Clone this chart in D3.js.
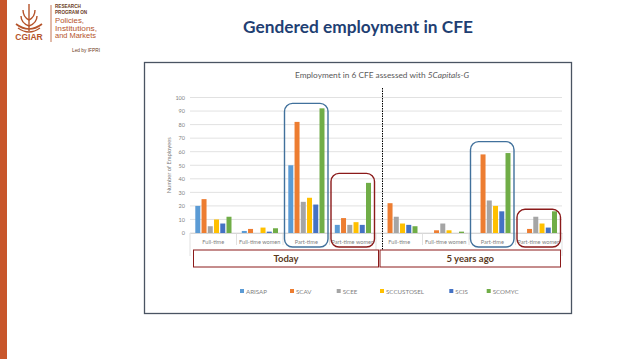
<!DOCTYPE html>
<html><head><meta charset="utf-8">
<script src="https://cdn.jsdelivr.net/npm/d3@7/dist/d3.min.js"></script>
<style>
html,body{margin:0;padding:0;background:#fff;}
svg{display:block;font-family:Lato,"Liberation Sans",sans-serif;}
</style></head>
<body>
<svg id="c" width="638" height="359"></svg>
<script>
// ---- data ----
const categories = ["Full-time","Full-time women","Part-time","Part-time women","Full-time","Full-time women","Part-time","Part-time women"];
const periods = ["Today","5 years ago"];
const seriesNames = ["ARISAP","SCAV","SCEE","SCCUSTOSEL","SCIS","SCOMYC"];
const ARISAP     = [20, 1.5, 50, 6,   0, 0,  0,  0];
const SCAV       = [25, 3,   82, 11,  22, 2, 58, 3];
const SCEE       = [5,  0,   23, 6,   12, 7, 24, 12];
const SCCUSTOSEL = [10, 4,   26, 8,   7,  2, 20, 7];
const SCIS       = [7,  1,   21, 6,   6,  0, 16, 4];
const SCOMYC     = [12, 3.5, 92, 37,  5,  1, 59, 16];
const yTicks = [0,10,20,30,40,50,60,70,80,90,100];
const seriesColors = ["#5B9BD5","#ED7D31","#A5A5A5","#FFC000","#4472C4","#70AD47"];
// highlighted categories (index) and the value level of the box top
const highlightIdx = [2,3,6,7];
const highlightTop = [95.7,44,67.4,17.5];
const highlightColor = ["#41719C","#8B1A1A","#41719C","#8B1A1A"];

const values = [ARISAP,SCAV,SCEE,SCCUSTOSEL,SCIS,SCOMYC];

const svg = d3.select("#c");

// left strip
svg.append("rect").attr("x",0).attr("y",0).attr("width",7).attr("height",359).attr("fill","#C8562B");

// logo
const logo = svg.append("g").attr("fill","#B5532A");
const em = svg.append("g").attr("stroke","#B5532A").attr("fill","none").attr("stroke-width",1.4);
em.append("line").attr("x1",29).attr("y1",4).attr("x2",29).attr("y2",31);
[[23,14],[35,14],[21,20],[37,20]].forEach(p=>{
  em.append("path").attr("d",`M29,${p[1]+6} Q${p[0]},${p[1]+3} ${p[0]},${p[1]-4}`);
});
em.append("path").attr("d","M16,24 Q29,34 42,24").attr("stroke-width",1.6);
em.append("path").attr("d","M18,28 Q29,36 40,28").attr("stroke-width",1.4);
logo.append("text").attr("x",29).attr("y",40).attr("text-anchor","middle").attr("font-size",8.5).attr("font-weight","bold").attr("font-family","Liberation Sans").text("CGIAR");
svg.append("line").attr("x1",51).attr("x2",51).attr("y1",5).attr("y2",42).attr("stroke","#B5532A").attr("stroke-width",0.8);
svg.append("text").attr("x",55).attr("y",8).attr("font-size",4.6).attr("font-weight","bold").attr("fill","#6B3A22").attr("font-family","Liberation Sans").text("RESEARCH");
svg.append("text").attr("x",55).attr("y",13.5).attr("font-size",4.6).attr("font-weight","bold").attr("fill","#6B3A22").attr("font-family","Liberation Sans").text("PROGRAM ON");
["Policies,","Institutions,","and Markets"].forEach((t,i)=>{
  svg.append("text").attr("x",55).attr("y",23+i*7.6).attr("font-size",6.6).attr("fill","#B5532A")
    .attr("font-family","Liberation Sans").attr("textLength",[29,42,41][i]).attr("lengthAdjust","spacingAndGlyphs").text(t);
});
svg.append("text").attr("x",72).attr("y",51.5).attr("font-size",4.8).attr("fill","#6B3A22").attr("font-family","Liberation Sans").text("Led by IFPRI");

// page title
svg.append("text").attr("x",358).attr("y",33).attr("text-anchor","middle")
  .attr("font-size",17).attr("font-weight","bold").attr("fill","#1F3F73")
  .attr("font-family","Lato").attr("textLength",230).attr("lengthAdjust","spacingAndGlyphs")
  .text("Gendered employment in CFE");

// chart frame
svg.append("rect").attr("x",144.5).attr("y",62.5).attr("width",427).attr("height",251)
  .attr("fill","#fff").attr("stroke","#4A5462").attr("stroke-width",1.3);

// chart title
const ct = svg.append("text").attr("x",382).attr("y",78).attr("text-anchor","middle")
  .attr("font-size",8.3).attr("fill","#595959");
ct.append("tspan").text("Employment in 6 CFE assessed with ");
ct.append("tspan").attr("font-style","italic").text("5Capitals-G");

// scales
const x0 = d3.scaleBand().domain(d3.range(categories.length)).range([190,562]).padding(0);
const x1 = d3.scaleBand().domain(d3.range(seriesNames.length)).range([5.3,41.5]).paddingInner(0.2);
const y = d3.scaleLinear().domain([0,100]).range([233,97.5]);

// gridlines
svg.append("g").selectAll("line").data(yTicks).join("line")
  .attr("x1",190).attr("x2",562).attr("y1",d=>y(d)).attr("y2",d=>y(d))
  .attr("stroke","#D9D9D9").attr("stroke-width",0.8);

// y axis labels
const yAxis = d3.axisLeft(y).tickValues(yTicks).tickSize(0).tickPadding(5);
const ya = svg.append("g").attr("transform","translate(190,0)").call(yAxis);
ya.select(".domain").remove();
ya.selectAll("text").attr("font-size",5.5).attr("fill","#7F7F7F").attr("font-family","Lato");

svg.append("text").attr("transform",`translate(171,${y(50)}) rotate(-90)`).attr("text-anchor","middle")
  .attr("font-size",5.8).attr("fill","#7F7F7F").text("Number of Employees");

// category axis
const xAxis = d3.axisBottom(x0).tickSize(0).tickPadding(7).tickFormat(i=>categories[i]);
const xa = svg.append("g").attr("transform",`translate(0,${y(0)})`).call(xAxis);
xa.select(".domain").attr("stroke","#D0D0D0").attr("stroke-width",0.8);
xa.selectAll("text").attr("font-size",5.6).attr("fill","#7F7F7F").attr("font-family","Lato");
// separators
svg.append("g").selectAll("line").data(d3.range(categories.length+1)).join("line")
  .attr("x1",i=>i<categories.length?x0(i):562).attr("x2",i=>i<categories.length?x0(i):562)
  .attr("y1",y(0)).attr("y2",(i)=> (i===0||i===4||i===8)?y(0)+23:y(0)+12)
  .attr("stroke","#D9D9D9").attr("stroke-width",0.8);

// bars
const groups = svg.append("g").selectAll("g").data(categories.map((c,i)=>i)).join("g")
  .attr("transform",i=>`translate(${x0(i)},0)`);
groups.selectAll("rect").data(i=>values.map((arr,s)=>({s,v:arr[i]}))).join("rect")
  .attr("x",d=>x1(d.s)).attr("width",x1.bandwidth())
  .attr("y",d=>y(d.v)).attr("height",d=>y(0)-y(d.v))
  .attr("fill",d=>seriesColors[d.s]);

// highlight boxes
highlightIdx.forEach((ci,k)=>{
  svg.append("rect").attr("x",x0(ci)+1.5).attr("width",x0.bandwidth()-3)
    .attr("y",y(highlightTop[k])).attr("height",247-y(highlightTop[k]))
    .attr("rx",8).attr("fill","none").attr("stroke",highlightColor[k]).attr("stroke-width",1.4);
});

// dotted divider
svg.append("line").attr("x1",382.5).attr("x2",382.5).attr("y1",88).attr("y2",268)
  .attr("stroke","#000").attr("stroke-width",1).attr("stroke-dasharray","1.5,1");

// period boxes
periods.forEach((p,k)=>{
  const xa0 = k===0 ? x0(0)+3.5 : x0(4)+4;
  const xa1 = k===0 ? x0(3)+x0.bandwidth()+2.5 : x0(7)+x0.bandwidth()-1.5;
  svg.append("rect").attr("x",xa0).attr("y",250).attr("width",xa1-xa0).attr("height",17)
    .attr("fill","#fff").attr("stroke","#8B1A1A").attr("stroke-width",1);
  svg.append("text").attr("x",(xa0+xa1)/2).attr("y",262.2).attr("text-anchor","middle")
    .attr("font-size",9.5).attr("font-weight","bold").attr("fill","#5A3A1E").text(p);
});

// legend
const legX = [240,290,336.7,380,449.3,486.7];
const leg = svg.append("g").selectAll("g").data(seriesNames).join("g")
  .attr("transform",(d,i)=>`translate(${legX[i]},292)`);
leg.append("rect").attr("x",0).attr("y",-3).attr("width",4).attr("height",4).attr("fill",(d,i)=>seriesColors[i]);
leg.append("text").attr("x",6).attr("y",1.8).attr("font-size",6.2).attr("fill","#7F7F7F").text(d=>d);
</script>
</body></html>
